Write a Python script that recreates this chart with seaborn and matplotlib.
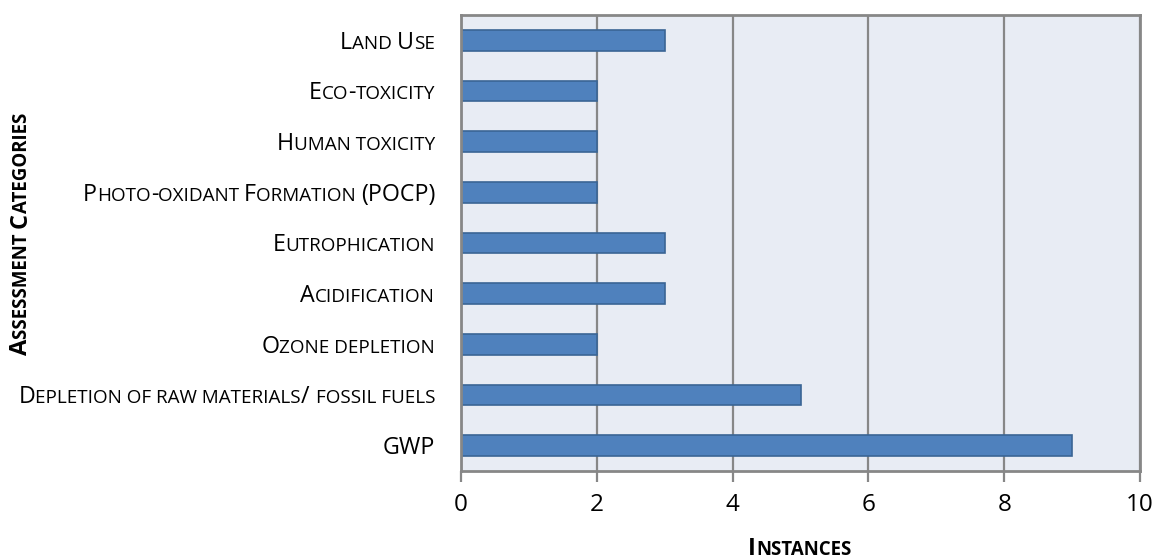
import numpy as np
import pandas as pd
import matplotlib
matplotlib.use("Agg")
import matplotlib.pyplot as plt
import seaborn as sns
from matplotlib.font_manager import FontProperties
from matplotlib.transforms import offset_copy, IdentityTransform

# Impact categories (top to bottom) and number of instances
categories = [
    "Land Use",
    "Eco-toxicity",
    "Human toxicity",
    "Photo-oxidant Formation (POCP)",
    "Eutrophication",
    "Acidification",
    "Ozone depletion",
    "Depletion of raw materials/ fossil fuels",
    "GWP",
]
instances = [3, 2, 2, 2, 3, 3, 2, 5, 9]
x_ticks = [0, 2, 4, 6, 8, 10]
x_title = "Instances"
y_title = "Assessment Categories"

FAMILY = ["Open Sans", "DejaVu Sans"]
GRID = "#878787"

sns.set_theme(style="white")
plt.rcParams["font.family"] = FAMILY

W, H, DPI = 1156, 559, 100
fig = plt.figure(figsize=(W / DPI, H / DPI), dpi=DPI)
ax = fig.add_axes([461 / W, 1 - 471 / H, (1140 - 461) / W, (471 - 15) / H])

df = pd.DataFrame({"category": categories, "instances": instances})
sns.barplot(data=df, x="instances", y="category", orient="h", color="#4F81BD",
            saturation=1, width=0.41, edgecolor="#3A6595", linewidth=1.2, ax=ax)

ax.set_xlim(0, 10)
ax.set_xticks(x_ticks)
ax.set_xticklabels([str(v) for v in x_ticks])
ax.set_facecolor("#E8ECF4")
ax.grid(axis="x", color=GRID, lw=1.6)
ax.grid(axis="y", visible=False)
ax.set_axisbelow(True)
for sp in ax.spines.values():
    sp.set_color(GRID)
    sp.set_linewidth(2)
ax.tick_params(axis="x", bottom=True, length=8, width=1.6, color=GRID,
               direction="out", pad=8, labelsize=17.5, labelcolor="black")
ax.tick_params(axis="y", left=False, labelleft=False)
ax.set_xlabel("")
ax.set_ylabel("")

renderer = fig.canvas.get_renderer()
CAP = 0.714  # cap height as a fraction of the em size


def split_runs(text):
    """Split text into runs of full-size capitals and reduced-size capitals."""
    runs = []
    for ch in text:
        small = ch.islower()
        if ch == " " and runs:
            small = runs[-1][1]
        if runs and runs[-1][1] == small:
            runs[-1][0] += ch.upper()
        else:
            runs.append([ch.upper(), small])
    return runs


def advance(s, prop):
    w1 = renderer.get_text_width_height_descent("x" + s + "x", prop, ismath=False)[0]
    w0 = renderer.get_text_width_height_descent("xx", prop, ismath=False)[0]
    return w1 - w0


def smallcaps(text, x, y, transform, big, small, ha="right", rotation=0,
              weight="normal", dx=0.0, dy=0.0):
    runs = split_runs(text)
    props = [FontProperties(family=FAMILY, size=small if sm else big, weight=weight)
             for _, sm in runs]
    widths = [advance(s, p) for (s, _), p in zip(runs, props)]
    total = sum(widths)
    pos = {"right": -total, "center": -total / 2, "left": 0.0}[ha]
    ang = np.deg2rad(rotation)
    for (s, _), p, w in zip(runs, props, widths):
        tr = offset_copy(transform, fig=fig, x=dx + pos * np.cos(ang),
                         y=dy + pos * np.sin(ang), units="dots")
        fig.text(x, y, s, transform=tr, fontproperties=p, ha="left",
                 va="baseline", rotation=rotation, rotation_mode="anchor",
                 color="black")
        pos += w


# Category labels in small capitals
BIG, SMALL = 16.75, 13.6
cap_px = CAP * BIG * DPI / 72
for i, name in enumerate(categories):
    smallcaps(name, 0, i, ax.get_yaxis_transform(), BIG, SMALL, ha="right",
              dx=-26, dy=-cap_px / 2)

# Axis titles (bold small capitals)
smallcaps(x_title, 800, H - 555, IdentityTransform(), 17, 13.4, ha="center",
          weight="bold")
smallcaps(y_title, 27, H - 234, IdentityTransform(), 17, 13.4, ha="center",
          rotation=90, weight="bold")

fig.savefig("out.png", dpi=DPI)
